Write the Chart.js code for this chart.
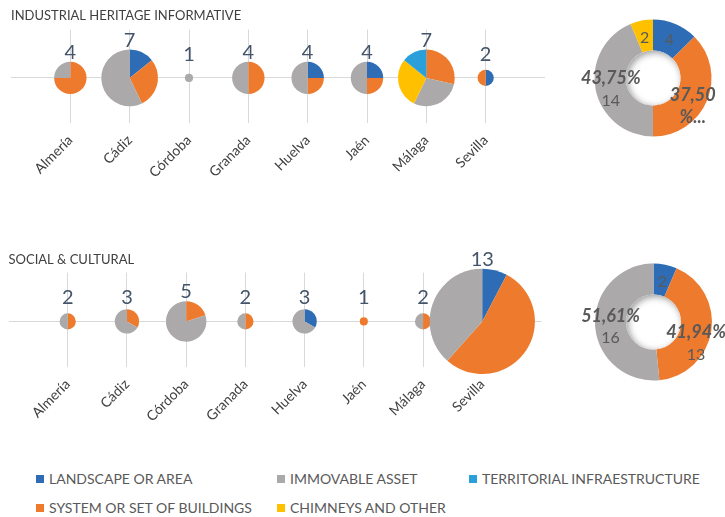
<!DOCTYPE html>
<html>
<head>
<meta charset="utf-8">
<script src="https://cdn.jsdelivr.net/npm/chart.js@4.4.1/dist/chart.umd.min.js"></script>
<style>
  html, body { margin: 0; padding: 0; background: #fff; }
  body { width: 725px; height: 517px; position: relative; overflow: hidden; font-family: Lato, sans-serif; }
  .box { position: absolute; }
  #legend {
    position: absolute; left: 36px; top: 464px;
    display: grid; grid-auto-flow: column;
    grid-template-rows: 29px 29px; grid-template-columns: 241px 192px auto;
    font: 14px Lato, sans-serif; color: #595959;
  }
  .item { display: flex; align-items: center; white-space: nowrap; }
  .sw { width: 8px; height: 8px; margin-right: 5px; flex: none; }
</style>
</head>
<body>
<div class="box" style="left:0;top:0;width:560px;height:200px"><canvas id="rowIndustrial"></canvas></div>
<div class="box" style="left:575px;top:0;width:150px;height:160px"><canvas id="donutIndustrial"></canvas></div>
<div class="box" style="left:0;top:240px;width:560px;height:200px"><canvas id="rowSocial"></canvas></div>
<div class="box" style="left:575px;top:240px;width:150px;height:160px"><canvas id="donutSocial"></canvas></div>
<div id="legend"></div>

<script>
// ---- data ----
const provinces = ['Almería', 'Cádiz', 'Córdoba', 'Granada', 'Huelva', 'Jaén', 'Málaga', 'Sevilla'];
const seriesNames = ['LANDSCAPE OR AREA', 'SYSTEM OR SET OF BUILDINGS', 'IMMOVABLE ASSET', 'CHIMNEYS AND OTHER', 'TERRITORIAL INFRAESTRUCTURE'];
const seriesColors = ['#2E6DB5', '#EE7A2E', '#ABA9A9', '#FFC000', '#2A9FDA'];

// Industrial heritage informative, per province
const indLandscape   = [0, 1, 0, 0, 1, 1, 0, 1];
const indSystem      = [3, 2, 0, 2, 1, 1, 2, 1];
const indImmovable   = [1, 4, 1, 2, 2, 2, 2, 0];
const indChimneys    = [0, 0, 0, 0, 0, 0, 2, 0];
const indTerritorial = [0, 0, 0, 0, 0, 0, 1, 0];
// Industrial heritage informative, summary ring
const indSummary = [4, 12, 14, 2, 0];

// Social & cultural, per province
const socLandscape   = [0, 0, 0, 0, 1, 0, 0, 1];
const socSystem      = [1, 1, 1, 1, 0, 1, 1, 7];
const socImmovable   = [1, 2, 4, 1, 2, 0, 1, 5];
const socChimneys    = [0, 0, 0, 0, 0, 0, 0, 0];
const socTerritorial = [0, 0, 0, 0, 0, 0, 0, 0];
// Social & cultural, summary ring
const socSummary = [2, 13, 16, 0, 0];

// ---- styling ----
const PX_PER_ITEM = 4.05;          // pie radius per counted item
const GRID = '#D9D9D9';
const FONT = 'Lato, sans-serif';

// Pies drawn at each bubble position, split by series
const provincePies = {
  id: 'provincePies',
  afterDatasetsDraw(chart) {
    const ds = chart.data.datasets[0];
    const meta = chart.getDatasetMeta(0);
    const ctx = chart.ctx;
    ctx.save();
    meta.data.forEach((el, i) => {
      const total = ds.data[i].count;
      const r = el.options.radius;
      let a = -Math.PI / 2;
      ds.parts.forEach((arr, k) => {
        const v = arr[i];
        if (!v) return;
        const sweep = v / total * Math.PI * 2;
        ctx.beginPath();
        ctx.moveTo(el.x, el.y);
        ctx.arc(el.x, el.y, r, a, a + sweep);
        ctx.closePath();
        ctx.fillStyle = seriesColors[k];
        ctx.fill();
        a += sweep;
      });
      ctx.font = '20px ' + FONT;
      ctx.fillStyle = '#44546A';
      ctx.textAlign = 'center';
      ctx.textBaseline = 'alphabetic';
      ctx.fillText(String(total), el.x, el.y - Math.max(r, 14) - 3);
    });
    ctx.restore();
  }
};

function rowChart(id, title, parts, pad) {
  const totals = provinces.map((_, i) => parts.reduce((s, p) => s + p[i], 0));
  return new Chart(document.getElementById(id), {
    type: 'bubble',
    data: {
      datasets: [{
        data: totals.map((t, i) => ({ x: i, y: 0, r: t * PX_PER_ITEM, count: t })),
        parts: parts,
        backgroundColor: 'rgba(0,0,0,0)',
        borderWidth: 0,
        hoverBorderWidth: 0
      }]
    },
    options: {
      responsive: true,
      maintainAspectRatio: false,
      animation: false,
      events: [],
      layout: { padding: pad.layout, autoPadding: false },
      plugins: {
        legend: { display: false },
        tooltip: { enabled: false },
        title: {
          display: true, text: title, align: 'start', color: '#404040',
          font: { family: FONT, size: 13, weight: 'normal' },
          padding: pad.title
        }
      },
      scales: {
        x: {
          type: 'linear', min: -1, max: provinces.length,
          afterBuildTicks: s => { s.ticks = provinces.map((_, i) => ({ value: i })); },
          afterFit: s => { s.height = 60; s.paddingLeft = 0; s.paddingRight = 0; },
          ticks: {
            autoSkip: false, minRotation: 45, maxRotation: 45, padding: 9,
            color: '#404040', font: { family: FONT, size: 14 },
            callback: v => provinces[v]
          },
          grid: { color: GRID, drawTicks: false },
          border: { display: false }
        },
        y: {
          min: -1, max: 1.07,
          afterBuildTicks: s => { s.ticks = [{ value: 0 }]; },
          afterFit: s => { s.width = 0; s.paddingTop = 0; s.paddingBottom = 0; },
          ticks: { display: false },
          grid: { color: GRID, drawTicks: false },
          border: { display: false }
        }
      }
    },
    plugins: [provincePies]
  });
}

const fmtPct = v => (v * 100).toFixed(2).replace('.', ',') + '%';

// soft inner shadow inside the ring hole
const holeShadow = {
  id: 'holeShadow',
  afterDatasetsDraw(chart) {
    const arc = chart.getDatasetMeta(0).data[0];
    if (!arc) return;
    const { x, y, innerRadius, outerRadius } = arc.getProps(['x', 'y', 'innerRadius', 'outerRadius'], true);
    const ctx = chart.ctx;
    ctx.save();
    ctx.beginPath();
    ctx.arc(x, y, innerRadius, 0, Math.PI * 2);
    ctx.clip();
    ctx.beginPath();
    ctx.arc(x, y, outerRadius + 30, 0, Math.PI * 2);
    ctx.arc(x, y, innerRadius, 0, Math.PI * 2, true);
    ctx.shadowColor = 'rgba(0,0,0,0.4)';
    ctx.shadowBlur = 7;
    ctx.shadowOffsetX = 2;
    ctx.shadowOffsetY = 2;
    ctx.fillStyle = '#fff';
    ctx.fill();
    ctx.restore();
  }
};

// value labels on the ring
const ringLabels = {
  id: 'ringLabels',
  afterDatasetsDraw(chart) {
    const values = chart.data.datasets[0].data;
    const total = values.reduce((a, b) => a + b, 0);
    const meta = chart.getDatasetMeta(0);
    const ctx = chart.ctx;
    const wrap = chart.data.datasets[0].wrapLabels || [];
    const shift = chart.data.datasets[0].labelShift || [];
    ctx.save();
    ctx.fillStyle = '#595959';
    ctx.textAlign = 'center';
    ctx.textBaseline = 'middle';
    meta.data.forEach((el, i) => {
      const v = values[i];
      if (!v) return;
      const p = el.tooltipPosition();
      const share = v / total;
      const lines = [];
      if (share >= 0.2) {
        const pct = fmtPct(share);
        if (wrap.includes(i)) {
          lines.push({ t: pct.slice(0, -1), f: 'italic bold 18px ' + FONT });
          lines.push({ t: '%...', f: 'italic bold 18px ' + FONT });
        } else {
          lines.push({ t: pct, f: 'italic bold 18px ' + FONT });
          lines.push({ t: String(v), f: '16px ' + FONT });
        }
      } else {
        lines.push({ t: String(v), f: '16px ' + FONT });
      }
      const lh = 22;
      let y = p.y + (shift[i] || 0) - (lines.length - 1) * lh / 2;
      lines.forEach(l => {
        ctx.font = l.f;
        ctx.fillText(l.t, p.x, y);
        y += lh;
      });
    });
    ctx.restore();
  }
};

function ringChart(id, values, padding, look) {
  return new Chart(document.getElementById(id), {
    type: 'doughnut',
    data: {
      labels: seriesNames,
      datasets: [{
        data: values, backgroundColor: seriesColors, borderWidth: 0,
        wrapLabels: look.wrap, labelShift: look.shift
      }]
    },
    options: {
      responsive: true,
      maintainAspectRatio: false,
      animation: false,
      events: [],
      cutout: '47%',
      layout: { padding: padding },
      plugins: {
        legend: { display: false },
        tooltip: { enabled: false }
      }
    },
    plugins: [holeShadow, ringLabels]
  });
}

rowChart('rowIndustrial', 'INDUSTRIAL HERITAGE INFORMATIVE',
  [indLandscape, indSystem, indImmovable, indChimneys, indTerritorial],
  { layout: { left: 11, right: 15, top: 0, bottom: 17 }, title: { top: 8, bottom: 6 } });

rowChart('rowSocial', 'SOCIAL & CULTURAL',
  [socLandscape, socSystem, socImmovable, socChimneys, socTerritorial],
  { layout: { left: 8.5, right: 18.5, top: 0, bottom: 13 }, title: { top: 12, bottom: 5 } });

ringChart('donutIndustrial', indSummary,
  { left: 19.5, right: 13.5, top: 19.5, bottom: 23.5 },
  { wrap: [1], shift: [2, 12, 3, 2, 0] });

ringChart('donutSocial', socSummary,
  { left: 20, right: 13, top: 23.5, bottom: 19.5 },
  { wrap: [], shift: [2, 15, 3, 0, 0] });

// legend, column by column in series order
const legend = document.getElementById('legend');
seriesNames.forEach((name, i) => {
  const item = document.createElement('div');
  item.className = 'item';
  const sw = document.createElement('span');
  sw.className = 'sw';
  sw.style.background = seriesColors[i];
  const txt = document.createElement('span');
  txt.textContent = name;
  item.appendChild(sw);
  item.appendChild(txt);
  legend.appendChild(item);
});
</script>
</body>
</html>
